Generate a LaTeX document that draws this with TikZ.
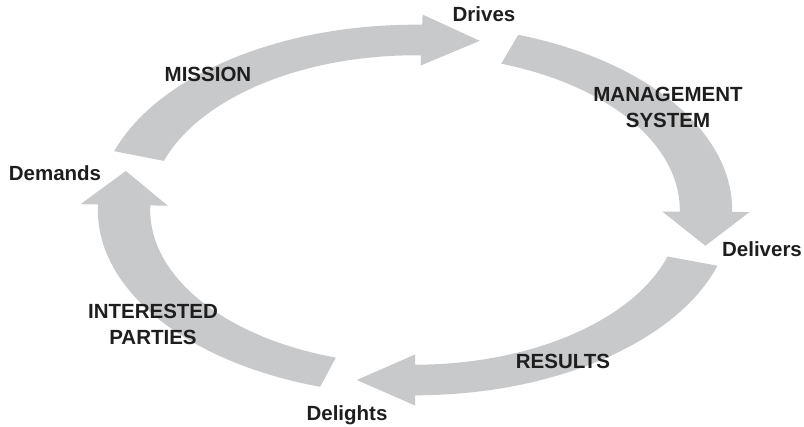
\documentclass[tikz,border=0pt]{standalone}
\usepackage{fontspec}
\setmainfont{Liberation Sans}
\usetikzlibrary{calc}
\definecolor{bandgray}{HTML}{C8C9CB}
\definecolor{inkdark}{HTML}{1E1E1E}
\begin{document}
\begin{tikzpicture}[x=1pt,y=-1pt,
  band/.style={fill=bandgray,draw=none},
  stagelabel/.style={font=\bfseries\fontsize{20.5}{26}\selectfont,text=inkdark,inner sep=0pt,align=center},
]
\useasboundingbox (0,0) rectangle (804,427);

% the cycle: four curved block arrows on an ellipse (unit circle scaled)
\begin{scope}[shift={(415,210)},x=291pt,y=170pt]
  \def\ro{1.09}\def\ri{0.91}\def\hro{1.15}\def\hri{0.85}\def\hlen{0.2}
  \foreach \t/\h in {161.5/88.7, 71/-0.6, -17.5/-90, 252.6/178.3}{
    \fill[band] (\t:\ro) arc[start angle=\t, end angle=\h, radius=\ro]
      -- (\h:\hro) -- ($(\h:1)+(\h-90:\hlen)$) -- (\h:\hri)
      -- (\h:\ri) arc[start angle=\h, end angle=\t, radius=\ri] -- cycle;
  }
\end{scope}

% stage names
\node[stagelabel,anchor=base] (drives)   at (484,22)  {Drives};
\node[stagelabel,anchor=base] (delivers) at (762,257) {Delivers};
\node[stagelabel,anchor=base] (delights) at (347,421) {Delights};
\node[stagelabel,anchor=base] (demands)  at (55,181)  {Demands};

% arrow captions
\node[stagelabel,anchor=base] (mission) at (208,82)  {MISSION};
\node[stagelabel] (mgmt)    at (668,107.7) {MANAGEMENT\\SYSTEM};
\node[stagelabel,anchor=base] (results) at (563,369) {RESULTS};
\node[stagelabel] (parties) at (153,324)   {INTERESTED\\PARTIES};
\end{tikzpicture}
\end{document}
